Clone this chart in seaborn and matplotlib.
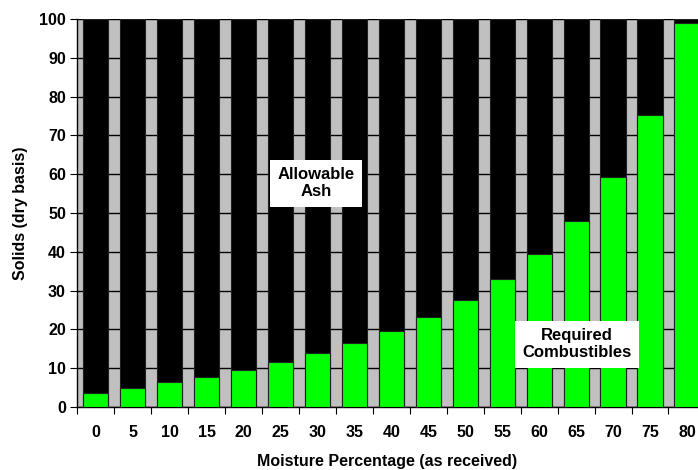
import matplotlib
matplotlib.use("Agg")
import matplotlib.pyplot as plt
import seaborn as sns
import numpy as np
import pandas as pd

moisture = [0, 5, 10, 15, 20, 25, 30, 35, 40, 45, 50, 55, 60, 65, 70, 75, 80]
combustibles = [3.6, 4.9, 6.4, 7.8, 9.6, 11.6, 13.9, 16.5, 19.5, 23.2, 27.5,
                32.9, 39.4, 48.0, 59.3, 75.2, 99.0]
total = [100] * len(moisture)

df = pd.DataFrame({"moisture": [str(m) for m in moisture],
                   "combustibles": combustibles,
                   "total": total})

sns.set_style("white")
plt.rcParams["font.family"] = ["Liberation Sans", "DejaVu Sans"]
plt.rcParams["font.weight"] = "bold"
for key in ["text.color", "axes.labelcolor", "xtick.color", "ytick.color"]:
    plt.rcParams[key] = "black"

fig = plt.figure(figsize=(6.98, 4.70), dpi=100)
ax = fig.add_axes([0.1103, 0.134, 0.8897, 0.8255])
ax.set_facecolor("#C0C0C0")

# black = allowable ash (up to 100), green = required combustibles
sns.barplot(data=df, x="moisture", y="total", color="black", width=0.68,
            edgecolor="#202020", linewidth=0.8, saturation=1, ax=ax, zorder=2)
sns.barplot(data=df, x="moisture", y="combustibles", color="#00FF00", width=0.68,
            edgecolor="#202020", linewidth=0.8, saturation=1, ax=ax, zorder=3)

ax.set_ylim(0, 100)
ax.set_xlim(-0.51, 16.3)
ax.set_yticks(range(0, 101, 10))
ax.yaxis.grid(True, color="black", linewidth=1.0, zorder=1)
ax.set_axisbelow(True)

ax.set_xticks(np.arange(-0.5, 16.5, 1), minor=True)
ax.tick_params(axis="x", which="major", bottom=True, length=0, pad=13, labelsize=11.5)
ax.tick_params(axis="x", which="minor", bottom=True, length=5, width=0.8, direction="out")
ax.tick_params(axis="y", left=True, length=5, width=0.8, direction="out", labelsize=11.5, pad=3)
for lab in ax.get_xticklabels() + ax.get_yticklabels():
    lab.set_fontweight("bold")

for side in ["top", "right"]:
    ax.spines[side].set_visible(False)
for side in ["left", "bottom"]:
    ax.spines[side].set_color("black")
    ax.spines[side].set_linewidth(1.0)

ax.set_xlabel("Moisture Percentage (as received)", fontsize=11.5, fontweight="bold", labelpad=10)
ax.set_ylabel("Solids (dry basis)", fontsize=11.5, fontweight="bold", labelpad=8)

box = dict(boxstyle="square,pad=0.45", facecolor="white", edgecolor="none")
ax.text(5.96, 57.7, "Allowable\nAsh", ha="center", va="center", fontsize=12,
        fontweight="bold", bbox=box, zorder=5, linespacing=1.15)
ax.text(13.03, 16.2, "Required\nCombustibles", ha="center", va="center", fontsize=12,
        fontweight="bold", bbox=box, zorder=5, linespacing=1.15)

fig.savefig("out.png", dpi=100)
